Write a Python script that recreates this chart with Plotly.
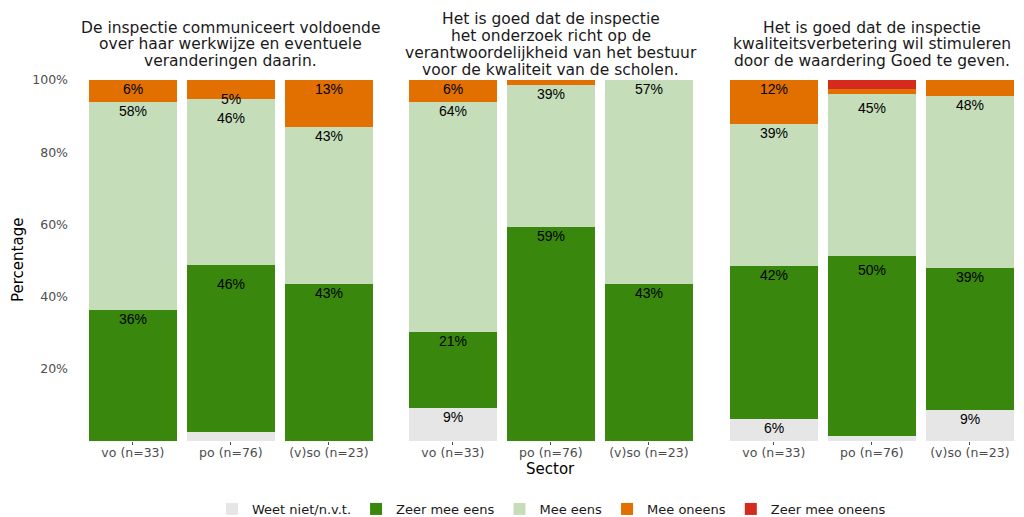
import plotly.graph_objects as go

# ---------------- data ----------------
panel_titles = [
    ["De inspectie communiceert voldoende", "over haar werkwijze en eventuele", "veranderingen daarin."],
    ["Het is goed dat de inspectie", "het onderzoek richt op de",
     "verantwoordelijkheid van het bestuur", "voor de kwaliteit van de scholen."],
    ["Het is goed dat de inspectie", "kwaliteitsverbetering wil stimuleren",
     "door de waardering Goed te geven."],
]
sectors = ["vo (n=33)", "po (n=76)", "(v)so (n=23)"]
answers = ["Weet niet/n.v.t.", "Zeer mee eens", "Mee eens", "Mee oneens", "Zeer mee oneens"]
colors = ["#E6E6E6", "#39870C", "#C5DDB9", "#E17000", "#D52B1E"]

# percentages per panel, per answer, per sector (vo, po, (v)so)
panel1 = {
    "Weet niet/n.v.t.": [0.0, 2.63, 0.0],
    "Zeer mee eens":    [36.36, 46.05, 43.48],
    "Mee eens":         [57.58, 46.05, 43.48],
    "Mee oneens":       [6.06, 5.26, 13.04],
    "Zeer mee oneens":  [0.0, 0.0, 0.0],
}
panel2 = {
    "Weet niet/n.v.t.": [9.09, 0.0, 0.0],
    "Zeer mee eens":    [21.21, 59.21, 43.48],
    "Mee eens":         [63.64, 39.47, 56.52],
    "Mee oneens":       [6.06, 1.32, 0.0],
    "Zeer mee oneens":  [0.0, 0.0, 0.0],
}
panel3 = {
    "Weet niet/n.v.t.": [6.06, 1.32, 8.70],
    "Zeer mee eens":    [42.42, 50.00, 39.13],
    "Mee eens":         [39.39, 44.74, 47.83],
    "Mee oneens":       [12.12, 1.32, 4.35],
    "Zeer mee oneens":  [0.0, 2.63, 0.0],
}
panels = [panel1, panel2, panel3]
y_ticks = [20, 40, 60, 80, 100]
y_ticktext = ["20%", "40%", "60%", "80%", "100%"]

# ---------------- layout geometry ----------------
OFF = 8  # page body margin in the browser
W, H = 1024 - OFF, 517 - OFF
PLOT_L, PLOT_T, PLOT_B = 79, 80, 441   # target page pixels
ML, MR, MT = PLOT_L - OFF, 0, PLOT_T - OFF
MB = H - (PLOT_B - OFF)
PW = W - ML - MR
PH = H - MT - MB
unit = 98.0
pan_w = 3.1 * unit
pan_starts = [0.0, 320.0, 641.0]
domains = [[s / PW, min((s + pan_w) / PW, 1.0)] for s in pan_starts]


def py(page_y):
    """page pixel y -> paper y"""
    return (PLOT_B - page_y) / PH


def px(page_x):
    return (page_x - PLOT_L) / PW


fig = go.Figure()
text_font = "DejaVu Sans, Verdana, sans-serif"
label_font = "Liberation Sans, Arial, sans-serif"

annotations = []
for pi, panel in enumerate(panels):
    xa = "x" if pi == 0 else f"x{pi+1}"
    for ai, ans in enumerate(answers):
        fig.add_trace(go.Bar(
            x=sectors, y=panel[ans], name=ans,
            marker=dict(color=colors[ai], line=dict(width=0)),
            width=0.9, xaxis=xa, yaxis="y",
            showlegend=(pi == 0), legendgroup=ans,
            hoverinfo="skip",
        ))
    # labels: only segments with >= 5%, stacked among themselves
    for si, sec in enumerate(sectors):
        cum = 0.0
        for ans in answers:
            v = panel[ans][si]
            if round(v) >= 5:
                cum += v
                annotations.append(dict(
                    x=sec, y=cum, xref=xa, yref="y",
                    text=f"{round(v)}%", showarrow=False,
                    yanchor="top", xanchor="center", yshift=1,
                    font=dict(family=label_font, size=14, color="#000000"),
                ))
    # panel title, one annotation per line for tight line spacing
    cx = (domains[pi][0] + domains[pi][1]) / 2
    lines = panel_titles[pi]
    n = len(lines)
    for li, line in enumerate(lines):
        ypx = 44.5 + (li - (n - 1) / 2) * 16.7
        annotations.append(dict(
            x=cx, y=py(ypx), xref="paper", yref="paper",
            text=line, showarrow=False, xanchor="center", yanchor="middle",
            font=dict(family=text_font, size=15.5, color="#1A1A1A"),
        ))

# axis titles
annotations.append(dict(
    x=(domains[1][0] + domains[1][1]) / 2, y=py(469),
    xref="paper", yref="paper", text="Sector", showarrow=False,
    xanchor="center", yanchor="middle",
    font=dict(family=text_font, size=15, color="#000000"),
))
annotations.append(dict(
    x=px(18), y=py(260),
    xref="paper", yref="paper", text="Percentage", showarrow=False,
    xanchor="center", yanchor="middle", textangle=-90,
    font=dict(family=text_font, size=15, color="#000000"),
))

layout = dict(
    width=W, height=H,
    margin=dict(l=ML, r=MR, t=MT, b=MB, autoexpand=False),
    paper_bgcolor="white", plot_bgcolor="white",
    barmode="stack", bargap=0.1,
    showlegend=True,
    legend=dict(
        orientation="h", x=0.5, xanchor="center",
        y=py(509), yanchor="middle",
        traceorder="normal",
        font=dict(family=text_font, size=13, color="#1A1A1A"),
        itemsizing="constant",
    ),
    annotations=annotations,
    yaxis=dict(
        range=[0, 100], tickvals=y_ticks, ticktext=y_ticktext,
        showgrid=False, zeroline=False, showline=False, ticks="",
        tickfont=dict(family=text_font, size=12.5, color="#4D4D4D"),
        ticklabelstandoff=10, domain=[0, 1], automargin=False,
    ),
)
for pi in range(3):
    key = "xaxis" if pi == 0 else f"xaxis{pi+1}"
    layout[key] = dict(
        domain=domains[pi], anchor="y",
        range=[-0.55, 2.55], type="category",
        categoryorder="array", categoryarray=sectors,
        showgrid=False, zeroline=False, showline=False,
        ticks="outside", ticklen=3, tickcolor="#4D4D4D", tickwidth=1,
        tickfont=dict(family=text_font, size=12.5, color="#4D4D4D"),
        ticklabelstandoff=-3,
        automargin=False,
    )
fig.update_layout(**layout)

fig.write_html("out.html")
